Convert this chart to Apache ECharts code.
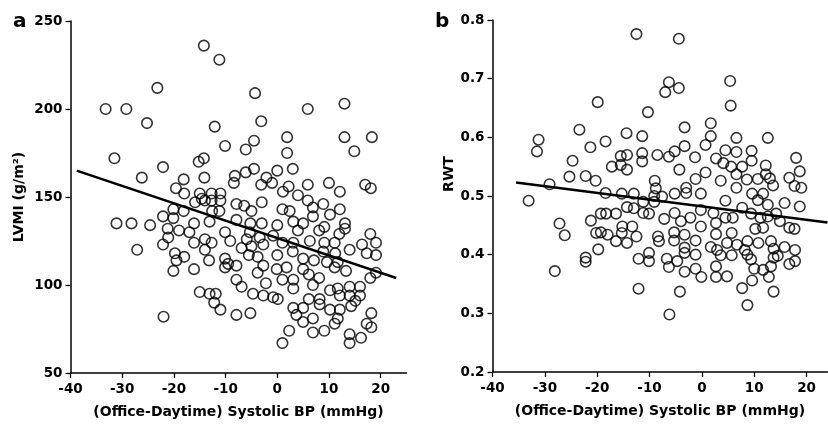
<!DOCTYPE html>
<html><head><meta charset="utf-8">
<script src="https://cdn.jsdelivr.net/npm/echarts@6/dist/echarts.min.js"></script>
<style>html,body{margin:0;padding:0;background:#fff}#c{width:828px;height:426px}</style>
</head><body><div id="c"></div>
<script>
// Panel a: LVMI vs (Office-Daytime) systolic BP
const lvmiPoints = [
[-14.2,236],[-11.2,228],[-23.2,212],[-4.3,209],[-33.2,200],[-29.2,200],[-25.2,192],[-12.1,190],[-10.1,179],[-6.1,177],[-4.5,182],[-31.5,172],[-22.1,167],[-15.2,170],[-14.2,172],[-26.2,161],[-14.1,161],[-18.1,160],[-8.2,162],[-6.1,164],[-4.5,166],[-8.4,158],[-19.6,155],[-18.0,152],[-15.0,152],[-12.7,152],[-11.0,152],
[5.9,200],[13.0,203],[-3.1,193],[1.9,184],[1.9,175],[13.0,184],[18.3,184],[14.9,176],[0.0,165],[3.0,166],[-2.1,161],[-1.0,158],[-3.1,157],[2.2,156],[1.1,153],[4.0,151],[5.9,157],[10.0,158],[12.1,153],[17.0,157],[18.1,155],
[-14.6,149],[-15.9,147],[-14.0,148],[-12.7,148],[-11.0,148],[-7.9,146],[-6.4,145],[-5.0,142],[-20.1,143],[-18.1,142],[-12.6,142],[-11.2,142],[-22.1,139],[-20.1,138],[-31.1,135],[-28.2,135],[-24.6,134],[-16.1,135],[-13.1,136],[-7.9,137],[-5.2,135],[-21.2,132],[-19.0,131],[-17.0,130],[-10.1,130],[-9.1,125],[-5.9,126],[-21.1,127],[-22.1,123],[-16.1,124],[-14.0,126],[-12.7,124],[-14.0,120],[-6.9,121],[-5.0,122],[-5.5,117],[-27.1,120],[-19.8,118],[-18.0,116],[-19.5,114],[-13.2,114],[-10.1,115],[-9.5,112],[-7.9,111],[-10.1,110],[-20.1,108],[-16.1,109],[-7.9,103],[-6.9,99],[-4.7,95],[-15.0,96],[-13.1,95],[-11.9,95],[-12.2,90],[-11.0,86],[-22.0,82],[-7.9,83],[-5.2,84],
[5.9,148],[8.9,146],[-3.0,147],[1.0,143],[2.4,142],[6.9,144],[12.1,143],[3.1,136],[5.0,135],[6.9,139],[10.2,140],[13.1,135],[-3.0,135],[0.0,134],[4.0,131],[8.1,131],[9.1,133],[12.0,129],[13.1,132],[18.0,129],[-5.3,130],[-3.4,127],[-0.8,128],[3.1,124],[6.3,125],[9.1,124],[11.1,124],[16.4,123],[19.1,124],[19.1,117],[17.3,118],[-2.7,123],[1.0,124],[-3.8,116],[0.0,117],[-2.7,111],[3.0,119],[5.0,115],[7.1,114],[9.6,113],[11.2,118],[11.7,113],[14.0,120],[8.9,119],[-0.1,109],[1.8,110],[5.0,109],[6.1,106],[8.1,104],[11.1,110],[13.3,108],[-3.8,107],[18.0,104],[19.1,107],[-2.2,101],[1.0,103],[3.1,103],[6.9,100],[-2.7,94],[-0.8,93],[0.1,92],[3.1,98],[10.2,97],[11.7,98],[14.0,99],[16.0,99],[12.1,94],[14.0,94],[16.0,94],[6.1,92],[8.2,92],[8.2,89],[15.1,91],[14.3,88],[3.1,87],[5.0,87],[3.7,83],[6.9,81],[10.2,86],[12.1,86],[11.7,81],[5.0,79],[11.1,78],[18.2,84],[17.3,78],[18.2,76],[2.3,74],[6.9,73],[9.1,74],[14.0,72],[16.2,70],[14.0,67],[1.0,67]
];
const lvmiFit = [[-38.8,165],[23,104]];

// Panel b: RWT vs (Office-Daytime) systolic BP
const rwtPoints = [
[-12.5,0.776],[-19.9,0.660],[-10.3,0.643],[-23.4,0.613],[-14.4,0.607],[-11.4,0.602],[-31.2,0.596],[-31.5,0.576],[-18.4,0.593],[-21.3,0.583],[-24.7,0.560],[-15.5,0.568],[-14.3,0.570],[-11.4,0.573],[-11.4,0.559],[-8.5,0.570],[-17.2,0.550],[-15.5,0.553],[-14.3,0.545],[-25.3,0.533],[-22.2,0.534],[-20.3,0.526],[-29.1,0.520],[-9.0,0.526],[-8.8,0.513],[-18.4,0.505],[-15.3,0.504],[-13.0,0.504],
[-4.4,0.768],[-6.3,0.694],[-7.0,0.677],[-4.4,0.684],[5.4,0.696],[5.5,0.654],[-3.3,0.617],[1.7,0.624],[1.7,0.602],[0.7,0.587],[-3.3,0.585],[-5.2,0.576],[-6.3,0.567],[-1.3,0.566],[6.6,0.599],[12.6,0.599],[4.5,0.578],[6.6,0.575],[9.5,0.577],[2.7,0.564],[4.1,0.556],[9.5,0.560],[5.6,0.550],[7.7,0.550],[12.2,0.552],[-4.3,0.545],[0.7,0.540],[-1.2,0.529],[-3.0,0.514],[6.6,0.537],[8.6,0.528],[10.7,0.529],[12.2,0.537],[13.0,0.530],[13.6,0.518],[3.6,0.526],[18.0,0.565],[18.7,0.542],[16.7,0.531],[17.7,0.517],[19.0,0.514],[-5.2,0.504],[-0.2,0.504],[6.6,0.514],[9.6,0.504],[11.7,0.504],
[-33.1,0.492],[-27.2,0.453],[-26.2,0.433],[-21.2,0.458],[-19.3,0.470],[-18.3,0.470],[-16.4,0.470],[-14.3,0.481],[-13.0,0.479],[-11.2,0.471],[-10.1,0.470],[-11.2,0.490],[-9.1,0.490],[-9.1,0.500],[-20.2,0.437],[-19.3,0.438],[-18.0,0.434],[-15.2,0.448],[-15.3,0.437],[-13.3,0.448],[-12.5,0.431],[-16.4,0.423],[-14.3,0.420],[-8.4,0.431],[-19.8,0.409],[-22.2,0.395],[-22.2,0.388],[-12.1,0.393],[-10.1,0.403],[-10.1,0.389],[-28.1,0.372],[-12.1,0.342],
[-7.6,0.499],[-3.0,0.505],[4.5,0.492],[10.7,0.493],[12.6,0.485],[15.8,0.488],[18.7,0.482],[-7.2,0.461],[-5.2,0.471],[-4.0,0.457],[-2.2,0.463],[-0.2,0.476],[2.2,0.471],[4.5,0.463],[5.9,0.463],[7.7,0.480],[9.4,0.470],[11.2,0.463],[12.6,0.465],[14.2,0.470],[14.9,0.457],[16.7,0.446],[17.7,0.444],[-8.2,0.423],[-5.3,0.438],[-5.3,0.424],[-3.3,0.434],[-1.2,0.424],[-0.2,0.448],[2.7,0.454],[2.7,0.435],[4.8,0.420],[5.7,0.437],[6.7,0.417],[8.7,0.423],[10.2,0.444],[11.7,0.446],[13.2,0.423],[10.8,0.420],[-3.3,0.412],[-3.3,0.403],[-1.2,0.400],[1.7,0.413],[2.9,0.408],[3.6,0.399],[5.7,0.399],[8.2,0.408],[8.7,0.400],[9.4,0.392],[13.7,0.410],[15.8,0.413],[17.8,0.408],[14.5,0.398],[16.7,0.384],[17.8,0.389],[13.7,0.395],[-6.7,0.393],[-6.3,0.379],[-4.7,0.389],[-3.3,0.371],[-1.2,0.376],[-0.1,0.362],[2.7,0.380],[2.7,0.362],[4.8,0.363],[10.0,0.376],[11.7,0.374],[12.8,0.362],[13.2,0.380],[9.6,0.356],[7.7,0.343],[13.7,0.337],[8.7,0.314],[-4.2,0.337],[-6.2,0.298]
];
const rwtFit = [[-35.5,0.523],[24,0.455]];

const xTicks = [-40,-30,-20,-10,0,10,20];
const xTitle = '(Office-Daytime) Systolic BP (mmHg)';
const yTitleA = 'LVMI (g/m²)';
const yTitleB = 'RWT';

const FONT = 'DejaVu Sans';
const axisCommon = {
  axisLine:{show:true,onZero:false,lineStyle:{color:'#000',width:1.5}},
  axisTick:{show:true,length:5,lineStyle:{color:'#000',width:1.3}},
  splitLine:{show:false},
  axisLabel:{color:'#000',fontFamily:FONT,fontWeight:'bold',fontSize:13.5},
  nameTextStyle:{color:'#000',fontFamily:FONT,fontWeight:'bold',fontSize:14}
};
function xAxis(gi,max){
  return Object.assign({},axisCommon,{
    type:'value',gridIndex:gi,min:-40,max:max,interval:10,
    name:xTitle,nameLocation:'middle',nameGap:32,
    axisTick:Object.assign({},axisCommon.axisTick,{customValues:xTicks}),
    axisLabel:Object.assign({},axisCommon.axisLabel,{customValues:xTicks,margin:9})
  });
}
const circle = {color:'rgba(0,0,0,0)',borderColor:'#000',borderWidth:1.6};
const option = {
  animation:false,
  backgroundColor:'#fff',
  title:[
    {text:'a',left:8,top:7,textStyle:{fontFamily:FONT,fontWeight:'bold',fontSize:20,color:'#000'}},
    {text:'b',left:430,top:7,textStyle:{fontFamily:FONT,fontWeight:'bold',fontSize:20,color:'#000'}}
  ],
  grid:[
    {left:70.5,top:21,width:336,height:352},
    {left:492.5,top:20,width:335,height:352}
  ],
  xAxis:[xAxis(0,25),xAxis(1,24)],
  yAxis:[
    Object.assign({},axisCommon,{type:'value',gridIndex:0,min:50,max:250,interval:50,
      name:yTitleA,nameLocation:'middle',nameGap:44,nameRotate:90}),
    Object.assign({},axisCommon,{type:'value',gridIndex:1,min:0.2,max:0.8,interval:0.1,
      name:yTitleB,nameLocation:'middle',nameGap:34,nameRotate:90,
      nameTextStyle:Object.assign({},axisCommon.nameTextStyle,{padding:[0,0,0,44]}),
      axisLabel:Object.assign({},axisCommon.axisLabel,{formatter:v=>v.toFixed(1)})})
  ],
  series:[
    {type:'scatter',xAxisIndex:0,yAxisIndex:0,data:lvmiPoints,symbol:'circle',symbolSize:10.5,itemStyle:circle,z:2},
    {type:'line',xAxisIndex:0,yAxisIndex:0,data:lvmiFit,symbol:'none',lineStyle:{color:'#000',width:2.5},z:3},
    {type:'scatter',xAxisIndex:1,yAxisIndex:1,data:rwtPoints,symbol:'circle',symbolSize:10.5,itemStyle:circle,z:2},
    {type:'line',xAxisIndex:1,yAxisIndex:1,data:rwtFit,symbol:'none',lineStyle:{color:'#000',width:2.5},z:3}
  ]
};
const chart = echarts.init(document.getElementById('c'),null,{renderer:'canvas'});
chart.setOption(option);
</script></body></html>
